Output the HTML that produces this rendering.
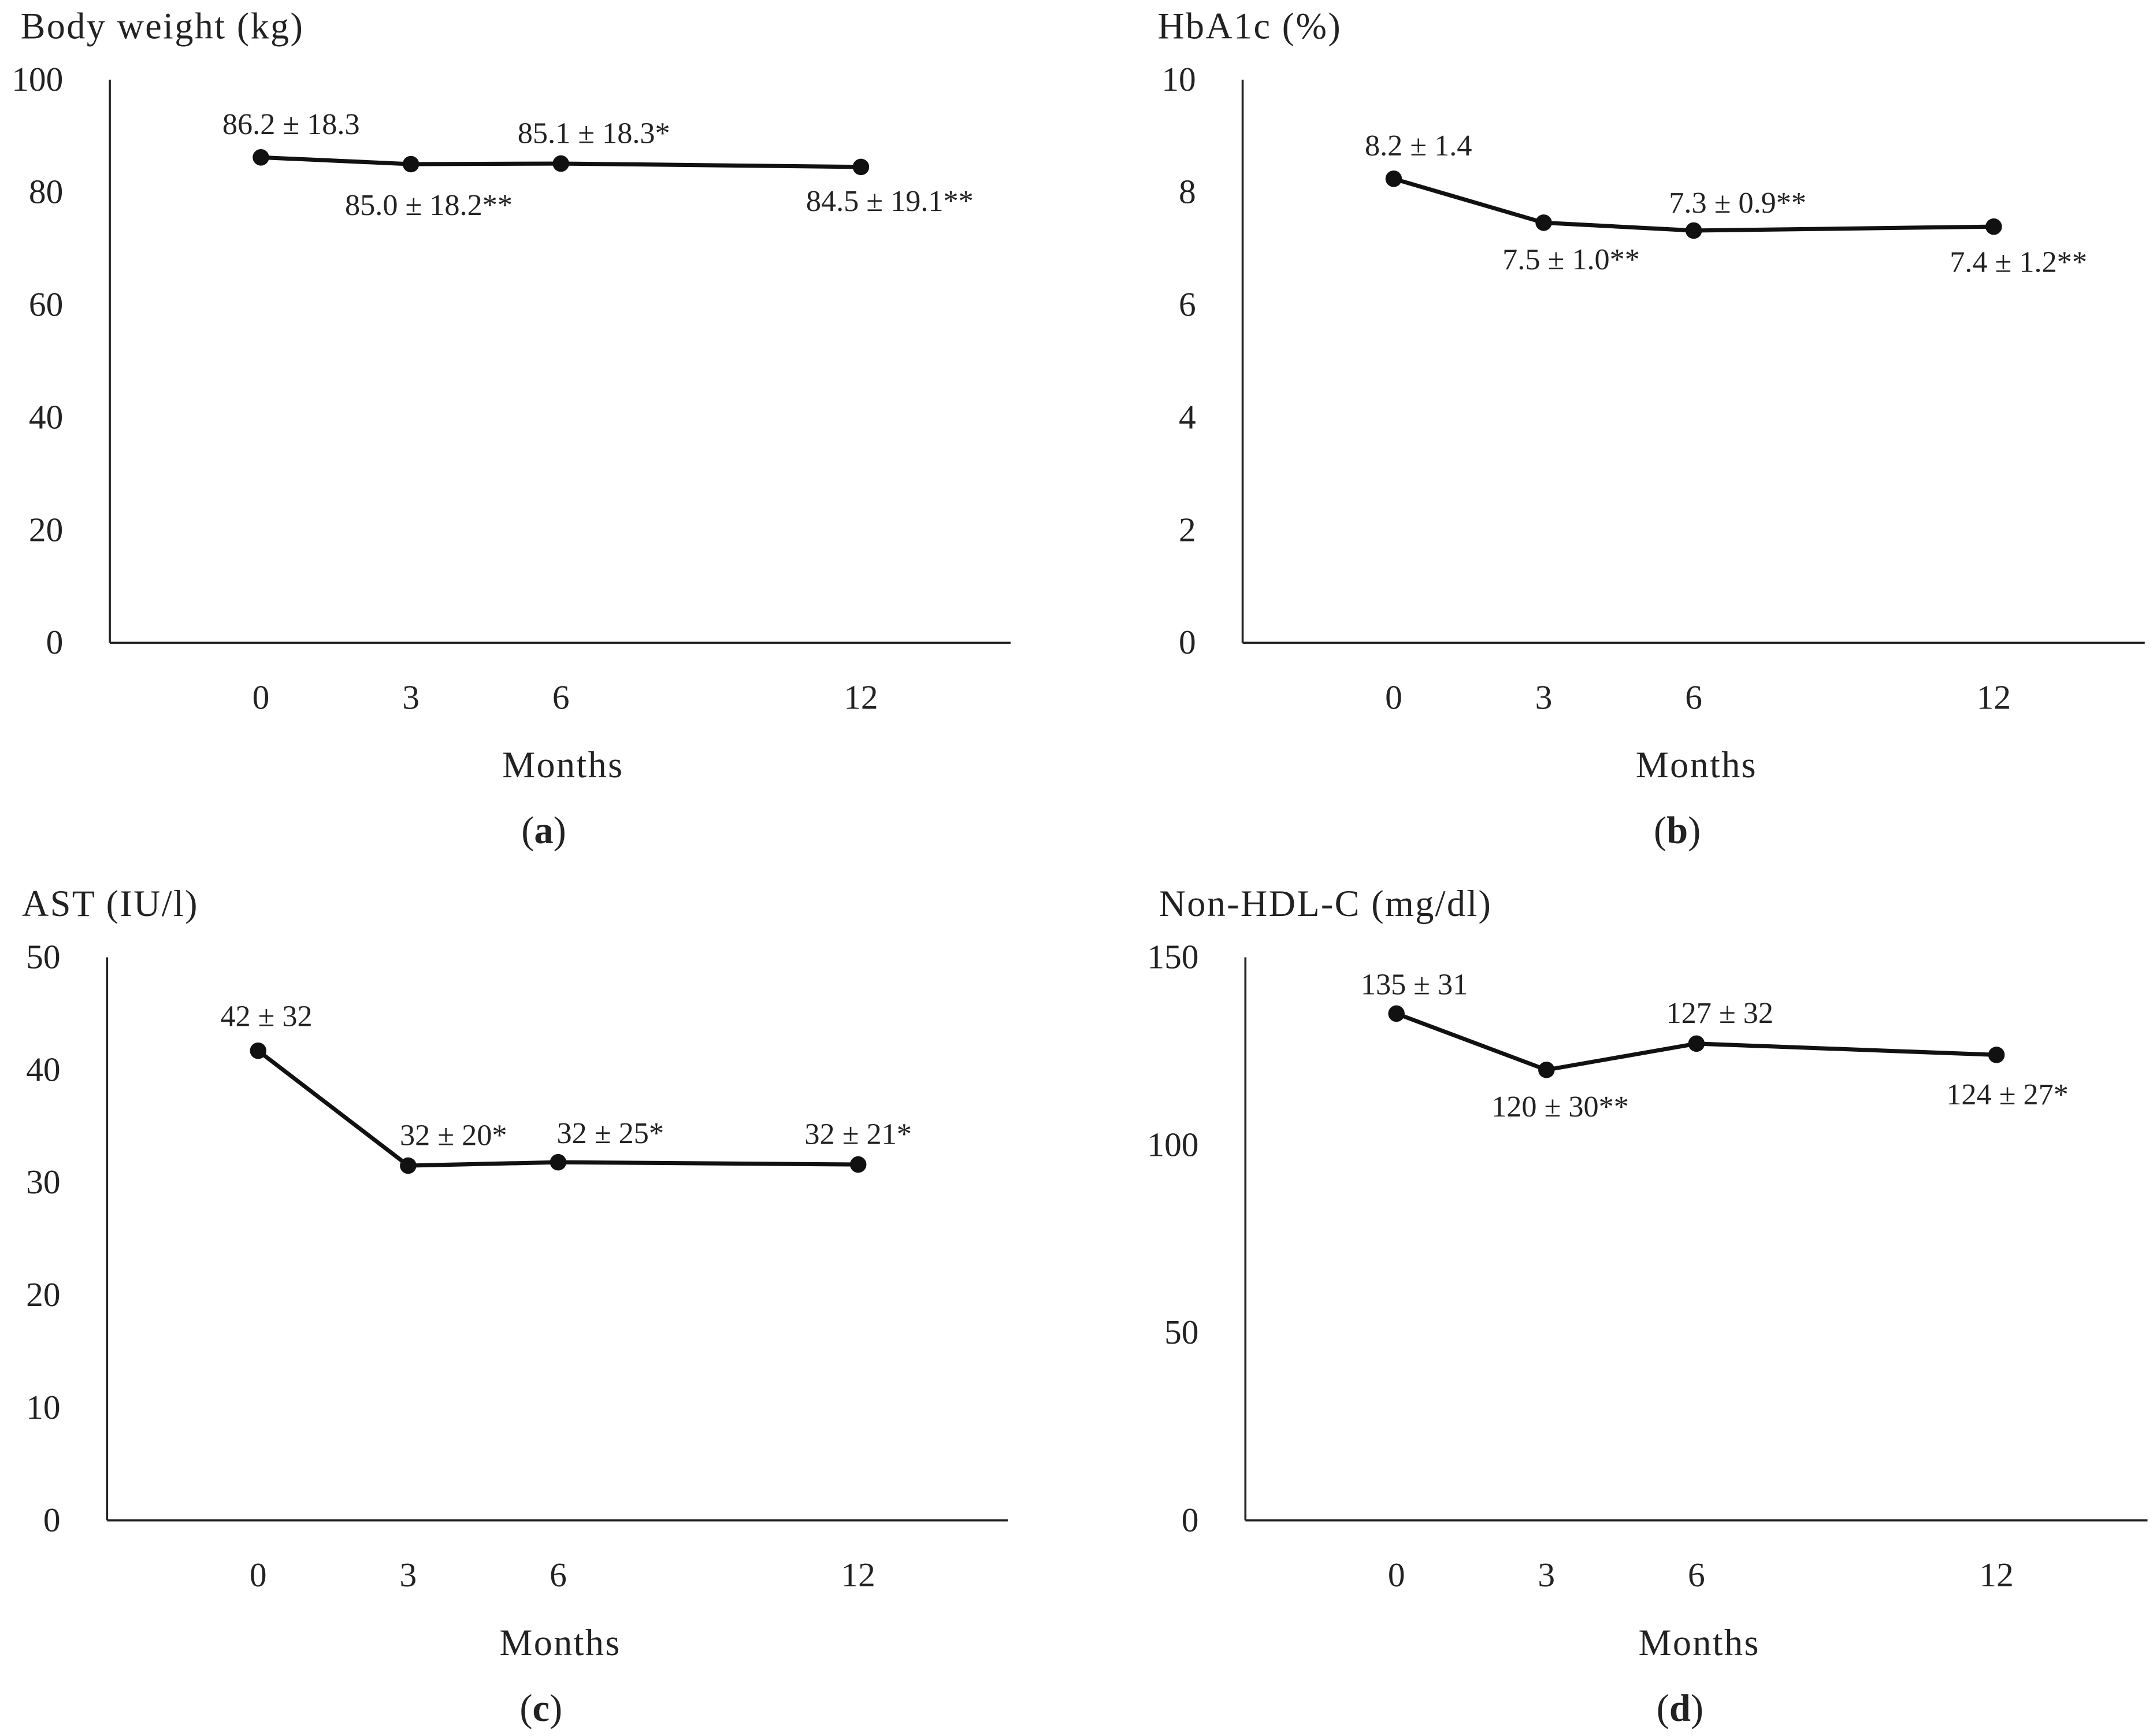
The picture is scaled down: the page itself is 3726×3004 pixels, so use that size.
<!DOCTYPE html>
<html><head><meta charset="utf-8">
<style>
html,body{margin:0;padding:0;background:#fff;}
svg{display:block;}
text{font-family:"Liberation Serif","DejaVu Serif",serif;fill:#222;}
</style></head>
<body>
<svg id="fig" width="3726" height="3004" viewBox="0 0 1568 1264" preserveAspectRatio="none" xmlns="http://www.w3.org/2000/svg"></svg>
<script>
const months = [0, 3, 6, 12];
const weightVals = [86.2, 85.0, 85.1, 84.5];
const weightLabels = ["86.2 ± 18.3", "85.0 ± 18.2**", "85.1 ± 18.3*", "84.5 ± 19.1**"];
const hba1cVals = [8.24, 7.46, 7.32, 7.39];
const hba1cLabels = ["8.2 ± 1.4", "7.5 ± 1.0**", "7.3 ± 0.9**", "7.4 ± 1.2**"];
const astVals = [41.7, 31.5, 31.8, 31.6];
const astLabels = ["42 ± 32", "32 ± 20*", "32 ± 25*", "32 ± 21*"];
const nonhdlVals = [135, 120, 127, 124];
const nonhdlLabels = ["135 ± 31", "120 ± 30**", "127 ± 32", "124 ± 27*"];
const weightTicks = [0, 20, 40, 60, 80, 100];
const hba1cTicks = [0, 2, 4, 6, 8, 10];
const astTicks = [0, 10, 20, 30, 40, 50];
const nonhdlTicks = [0, 50, 100, 150];

const NS = "http://www.w3.org/2000/svg";
const svg = document.getElementById("fig");
function mk(tag, attrs, parent) {
  const e = document.createElementNS(NS, tag);
  for (const k in attrs) e.setAttribute(k, attrs[k]);
  (parent || svg).appendChild(e);
  return e;
}
function panel(cfg) {
  const g = mk("g", {});
  
  
  const ymax = cfg.ticks[cfg.ticks.length - 1];
  const y = v => cfg.bottom - (v / ymax) * (cfg.bottom - cfg.top);
  const x = m => cfg.x0 + (m / 12) * (cfg.x12 - cfg.x0);
  const t = mk("text", {x: cfg.tx, y: cfg.top - 30, "font-size": 27, "letter-spacing": 1}, g);
  t.textContent = cfg.title;
  
  
  const ya = mk("line", {x1: cfg.ax, y1: cfg.top, x2: cfg.ax, y2: cfg.bottom, stroke: "#222", "stroke-width": 1.5}, g);
  
  
  const xa = mk("line", {x1: cfg.ax, y1: cfg.bottom, x2: cfg.xend, y2: cfg.bottom, stroke: "#222", "stroke-width": 1.5}, g);
  
  
  cfg.ticks.forEach(v => {
    const e = mk("text", {x: cfg.ax - 34, y: y(v) + 8, "font-size": 25, "text-anchor": "end"}, g);
    e.textContent = v;
    
    
  });
  months.forEach(m => {
    const e = mk("text", {x: x(m), y: cfg.bottom + 48, "font-size": 25, "text-anchor": "middle"}, g);
    e.textContent = m;
    
    
  });
  const xt = mk("text", {x: (cfg.ax + cfg.xend) / 2 + 2, y: cfg.bottom + 98, "font-size": 27, "letter-spacing": 1, "text-anchor": "middle"}, g);
  xt.textContent = "Months";
  
  
  const pl = mk("text", {x: (cfg.ax + cfg.xend) / 2 - 12, y: cfg.bottom + 146, "font-size": 28, "text-anchor": "middle"}, g);
  pl.innerHTML = '(<tspan font-weight="bold">' + cfg.letter + '</tspan>)';
  
  
  const pts = months.map((m, i) => x(m) + "," + y(cfg.vals[i])).join(" ");
  const line = mk("polyline", {points: pts, fill: "none", stroke: "#111", "stroke-width": 3}, g);
  
  
  months.forEach((m, i) => {
    const c = mk("circle", {cx: x(m), cy: y(cfg.vals[i]), r: 6, fill: "#111"}, g);
    
    
    const off = cfg.off[i];
    const l = mk("text", {x: x(m) + off[0], y: y(cfg.vals[i]) + off[1], "font-size": 22, "text-anchor": "middle"}, g);
    l.textContent = cfg.labels[i];
    
    
  });
}
panel({name: "panel-body-weight", letter: "a", title: "Body weight (kg)", tx: 15, ax: 80, xend: 736, top: 58, bottom: 468, x0: 190, x12: 627,
  vals: weightVals, labels: weightLabels, ticks: weightTicks, off: [[22, -17], [13, 37], [24, -15], [21, 32]]});
panel({name: "panel-hba1c", letter: "b", title: "HbA1c (%)", tx: 843, ax: 905, xend: 1562, top: 58, bottom: 468, x0: 1015, x12: 1452,
  vals: hba1cVals, labels: hba1cLabels, ticks: hba1cTicks, off: [[18, -17], [20, 34], [32, -13], [18, 33]]});
panel({name: "panel-ast", letter: "c", title: "AST (IU/l)", tx: 16, ax: 78, xend: 734, top: 697, bottom: 1107, x0: 188, x12: 625,
  vals: astVals, labels: astLabels, ticks: astTicks, off: [[6, -18], [33, -15], [38, -14], [0, -15]]});
panel({name: "panel-non-hdl-c", letter: "d", title: "Non-HDL-C (mg/dl)", tx: 844, ax: 907, xend: 1564, top: 697, bottom: 1107, x0: 1017, x12: 1454,
  vals: nonhdlVals, labels: nonhdlLabels, ticks: nonhdlTicks, off: [[13, -14], [10, 34], [17, -15], [8, 36]]});
</script>
</body></html>
